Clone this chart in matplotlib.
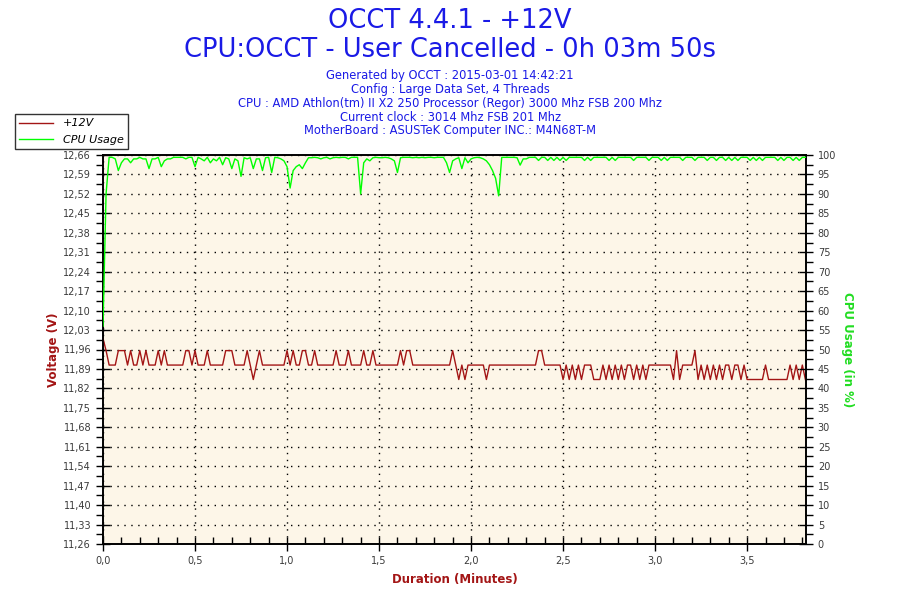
import numpy as np
import matplotlib
matplotlib.use("Agg")
import matplotlib.pyplot as plt
from matplotlib.ticker import FuncFormatter, MultipleLocator, FixedLocator
from matplotlib.lines import Line2D

# +12V readings, one per second (V)
volts = [
    12.000, 11.956, 11.904, 11.904, 11.904, 11.956, 11.956, 11.956, 11.904, 11.956,
    11.904, 11.904, 11.956, 11.904, 11.956, 11.904, 11.904, 11.904, 11.956, 11.904,
    11.956, 11.904, 11.904, 11.904, 11.904, 11.904, 11.904, 11.956, 11.956, 11.904,
    11.956, 11.904, 11.904, 11.904, 11.956, 11.904, 11.904, 11.904, 11.904, 11.904,
    11.956, 11.956, 11.956, 11.904, 11.904, 11.904, 11.904, 11.956, 11.904, 11.852,
    11.904, 11.956, 11.904, 11.904, 11.904, 11.904, 11.904, 11.904, 11.904, 11.904,
    11.956, 11.904, 11.956, 11.904, 11.904, 11.956, 11.956, 11.904, 11.904, 11.956,
    11.904, 11.904, 11.904, 11.904, 11.904, 11.904, 11.956, 11.904, 11.904, 11.904,
    11.956, 11.904, 11.904, 11.904, 11.904, 11.956, 11.904, 11.904, 11.956, 11.904,
    11.904, 11.904, 11.904, 11.904, 11.904, 11.904, 11.904, 11.956, 11.904, 11.956,
    11.956, 11.904, 11.904, 11.904, 11.904, 11.904, 11.904, 11.904, 11.904, 11.904,
    11.904, 11.904, 11.904, 11.904, 11.956, 11.904, 11.852, 11.904, 11.852, 11.904,
    11.904, 11.904, 11.904, 11.904, 11.904, 11.852, 11.904, 11.904, 11.904, 11.904,
    11.904, 11.904, 11.904, 11.904, 11.904, 11.904, 11.904, 11.904, 11.904, 11.904,
    11.904, 11.904, 11.956, 11.956, 11.904, 11.904, 11.904, 11.904, 11.904, 11.904,
    11.852, 11.904, 11.852, 11.904, 11.852, 11.904, 11.852, 11.904, 11.904, 11.904,
    11.852, 11.852, 11.852, 11.904, 11.852, 11.904, 11.852, 11.904, 11.852, 11.904,
    11.852, 11.904, 11.904, 11.852, 11.904, 11.852, 11.904, 11.852, 11.904, 11.904,
    11.904, 11.904, 11.904, 11.904, 11.904, 11.904, 11.852, 11.956, 11.852, 11.904,
    11.904, 11.904, 11.904, 11.956, 11.852, 11.904, 11.852, 11.904, 11.852, 11.904,
    11.852, 11.904, 11.852, 11.904, 11.904, 11.852, 11.904, 11.904, 11.852, 11.904,
    11.852, 11.852, 11.852, 11.852, 11.852, 11.852, 11.904, 11.852, 11.852, 11.852,
    11.852, 11.852, 11.852, 11.852, 11.904, 11.852, 11.904, 11.852, 11.904, 11.852,
]

# CPU usage, one per second (%)
cpu = [
    56, 90, 99.4, 99.4, 99, 96, 98, 99, 99, 98,
    99, 99, 99.4, 99, 99, 96.5, 99, 99, 99.4, 97,
    98.5, 99, 99, 99.4, 99.4, 99.4, 99.4, 99, 99.4, 99.4,
    97, 99.4, 99, 98.5, 99.4, 98, 99, 98.5, 99.4, 97.5,
    99.3, 99, 96.5, 99, 98.5, 94.5, 99.3, 99, 99.3, 96.5,
    99, 99, 96, 99.3, 99.4, 95.5, 99.4, 99.3, 99, 98.5,
    97, 91.5, 96, 97, 97.5, 96.5, 98, 99.3, 99.3, 99.4,
    99.3, 99, 99.3, 99.4, 99, 99.3, 99.4, 99.3, 99.4, 99.4,
    99, 99.4, 99.4, 99.4, 90, 98, 99, 98.5, 99.3, 99.4,
    99.3, 99.3, 99.4, 99.3, 99, 98.5, 95.5, 99.3, 99.4, 99.4,
    99.4, 99.3, 99.4, 99.3, 99.4, 99.3, 99.4, 99.4, 99.3, 99.4,
    99.4, 99.4, 98, 95.5, 98.5, 99, 99.3, 96.5, 99.3, 98,
    99, 99.3, 99.4, 99.3, 99, 98.5, 97.5, 96, 94, 89.5,
    99.4, 99.4, 99.4, 99.4, 99.4, 99.3, 97.4, 99, 99, 99.4,
    99.4, 99.4, 98.6, 99.4, 99.4, 98.6, 99.4, 98.6, 99.4, 98.6,
    99.4, 98.6, 99.4, 99.4, 99.4, 99.4, 99.4, 98.6, 99.4, 98.6,
    99.4, 99.4, 99.4, 99.4, 99.4, 98.6, 99.4, 98.6, 99.4, 99.4,
    99.4, 99.4, 99.4, 98.6, 99.4, 99.4, 99.4, 99.4, 98.6, 99.4,
    99.4, 99.4, 98.6, 99.4, 98.6, 99.4, 99.4, 99.4, 99.4, 98.6,
    99.4, 99.4, 99.4, 98.6, 99.4, 99.4, 99.4, 98.6, 99.4, 99.4,
    98.6, 99.4, 99.4, 98.6, 99.4, 98.6, 99.4, 98.6, 99.4, 99.4,
    99.4, 98.6, 99.4, 98.6, 99.4, 98.6, 99.4, 99.4, 99.4, 99.4,
    98.6, 99.4, 98.6, 99.4, 99.4, 98.6, 99.4, 98.6, 99.4, 99.4,
]

sample_seconds = 1.0
volt_ticks = [11.26, 11.33, 11.40, 11.47, 11.54, 11.61, 11.68, 11.75, 11.82, 11.89,
              11.96, 12.03, 12.10, 12.17, 12.24, 12.31, 12.38, 12.45, 12.52, 12.59, 12.66]
cpu_ticks = list(range(0, 101, 5))

title1 = "OCCT 4.4.1 - +12V"
title2 = "CPU:OCCT - User Cancelled - 0h 03m 50s"
info_lines = [
    "Generated by OCCT : 2015-03-01 14:42:21",
    "Config : Large Data Set, 4 Threads",
    "CPU : AMD Athlon(tm) II X2 250 Processor (Regor) 3000 Mhz FSB 200 Mhz",
    "Current clock : 3014 Mhz FSB 201 Mhz",
    "MotherBoard : ASUSTeK Computer INC.: M4N68T-M",
]

red = "#a31515"
green = "#00ff00"
blue = "#1a1ae6"
tick_col = "#3a3a3a"

t_min = np.arange(len(volts)) * sample_seconds / 60.0
t_cpu = np.arange(len(cpu)) * sample_seconds / 60.0

fig = plt.figure(figsize=(9, 6), dpi=100)
ax = fig.add_axes([103 / 900, 1 - 544 / 600, 703 / 900, 389 / 600])
ax.set_facecolor("#fdf6e8")
ax2 = ax.twinx()

ax2.plot(t_cpu, cpu, color=green, lw=1.0, zorder=3)
ax.plot(t_min, volts, color=red, lw=1.0, zorder=3)

ax.set_xlim(0, 3.82)
ax.set_ylim(volt_ticks[0], volt_ticks[-1])
ax2.set_ylim(0, 100)

comma = FuncFormatter(lambda v, p: ("%.2f" % v).replace(".", ","))
ax.yaxis.set_major_locator(FixedLocator(volt_ticks))
ax.yaxis.set_minor_locator(FixedLocator([v + 0.035 for v in volt_ticks[:-1]]))
ax.yaxis.set_major_formatter(comma)
ax.xaxis.set_major_locator(MultipleLocator(0.5))
ax.xaxis.set_minor_locator(MultipleLocator(0.1))
ax.xaxis.set_major_formatter(FuncFormatter(lambda v, p: ("%.1f" % v).replace(".", ",")))
ax2.yaxis.set_major_locator(FixedLocator(cpu_ticks))
ax2.yaxis.set_minor_locator(MultipleLocator(2.5))

for a in (ax, ax2):
    a.tick_params(which="major", direction="inout", length=10, width=1, colors="black",
                  labelcolor=tick_col, labelsize=7)
    a.tick_params(which="minor", direction="out", length=5, width=1, colors="black")
    for s in a.spines.values():
        s.set_linewidth(1.2)
ax.tick_params(axis="x", which="minor", direction="in", length=5)

ax.grid(True, which="major", color="black", linestyle=(0, (1, 4)), linewidth=1)

ax.set_ylabel("Voltage (V)", color=red, fontsize=8.5, fontweight="bold", labelpad=2)
ax2.set_ylabel("CPU Usage (in %)", color="#22dd22", fontsize=8.5, fontweight="bold",
               rotation=270, labelpad=13)
ax.set_xlabel("Duration (Minutes)", color=red, fontsize=8.5, fontweight="bold", labelpad=5)

fig.text(0.5, 1 - 21 / 600, title1, ha="center", va="center", fontsize=18.5, color=blue)
fig.text(0.5, 1 - 50 / 600, title2, ha="center", va="center", fontsize=18.5, color=blue)
for i, line in enumerate(info_lines):
    fig.text(0.5, 1 - (76 + i * 13.7) / 600, line, ha="center", va="center",
             fontsize=8.3, color=blue)

handles = [Line2D([], [], color=red, lw=1), Line2D([], [], color=green, lw=1)]
leg = fig.legend(handles, ["+12V", "CPU Usage"], loc="upper left",
                 bbox_to_anchor=(15 / 900, 1 - 114 / 600), frameon=True, fancybox=False,
                 borderaxespad=0, prop={"style": "italic", "size": 8},
                 handlelength=3.0, handletextpad=0.9, borderpad=0.4, labelspacing=0.55)
leg.get_frame().set_edgecolor("black")
leg.get_frame().set_linewidth(1)

fig.savefig("out.png", dpi=100)
